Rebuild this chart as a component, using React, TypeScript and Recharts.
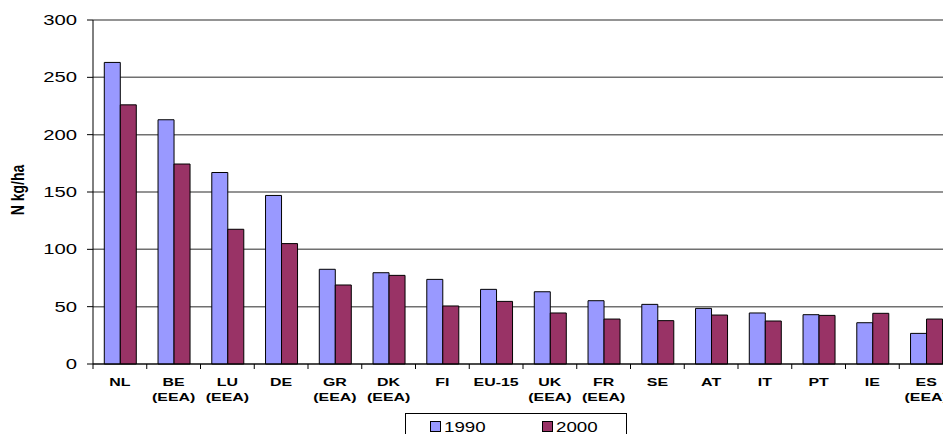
import React from 'react';
import { BarChart, Bar, XAxis, YAxis, CartesianGrid } from 'recharts';

// 国別の窒素量 (N kg/ha)
const countries = ['NL', 'BE\n(EEA)', 'LU\n(EEA)', 'DE', 'GR\n(EEA)', 'DK\n(EEA)', 'FI', 'EU-15', 'UK\n(EEA)', 'FR\n(EEA)', 'SE', 'AT', 'IT', 'PT', 'IE', 'ES\n(EEA)'];
const values1990 = [263, 213, 167, 147, 82.6, 79.6, 73.8, 65.1, 63, 55.2, 52, 48.5, 44.5, 43, 36, 26.7];
const values2000 = [226, 174.4, 117.5, 105, 68.9, 77.3, 50.6, 54.6, 44.5, 39.2, 37.8, 42.7, 37.5, 42.4, 44.2, 39.2];
const seriesNames = ['1990', '2000'];
const seriesColors = ['#9999FF', '#993366'];
const yTicks = [0, 50, 100, 150, 200, 250, 300];

const FONT = '"Liberation Sans", Arial, sans-serif';

// レイアウト
const CHART_W = 960;
const CHART_H = 434;
const LEFT = 93;
const RIGHT_MARGIN = 7;
const PLOT_BOTTOM = 364;
const BAND = (CHART_W - LEFT - RIGHT_MARGIN) / countries.length;

const data = countries.map((name, i) => ({
  name,
  v1990: values1990[i],
  v2000: values2000[i]
}));

const XTick = ({ x, payload, index }: any) => {
  const lines = String(payload.value).split('\n');
  const left = x - BAND / 2;
  return (
    <g>
      <line x1={left} x2={left} y1={PLOT_BOTTOM} y2={PLOT_BOTTOM + 5} stroke="#000" />
      {index === countries.length - 1 && (
        <line x1={left + BAND} x2={left + BAND} y1={PLOT_BOTTOM} y2={PLOT_BOTTOM + 5} stroke="#000" />
      )}
      {lines.map((t, i) => (
        <text
          key={i}
          transform={`translate(${x},${386 + i * 15}) scale(1.45,1)`}
          textAnchor="middle"
          fontFamily={FONT}
          fontWeight="bold"
          fontSize={11}
          fill="#000"
        >
          {t}
        </text>
      ))}
    </g>
  );
};

const YTick = ({ y, payload }: any) => (
  <g>
    <line x1={LEFT - 6} x2={LEFT} y1={y} y2={y} stroke="#000" />
    <text
      transform={`translate(77,${y}) scale(1.45,1)`}
      textAnchor="end"
      dy="0.36em"
      fontFamily={FONT}
      fontSize={14}
      fill="#000"
    >
      {payload.value}
    </text>
  </g>
);

const YLabel = () => (
  <text
    transform="translate(18,190) scale(1.3,1) rotate(-90)"
    textAnchor="middle"
    dy="0.35em"
    fontFamily={FONT}
    fontWeight="bold"
    fontSize={14}
    fill="#000"
  >
    N kg/ha
  </text>
);

// 凡例（下端で切れている枠）
const LegendBox = () => (
  <svg
    width={223}
    height={40}
    style={{ position: 'absolute', left: 405, top: 413 }}
  >
    <rect x={0.5} y={0.5} width={221} height={38} fill="#fff" stroke="#000" />
    {seriesNames.map((name, i) => (
      <g key={name} transform={`translate(${25 + i * 112},0)`}>
        <rect x={0.5} y={8.5} width={10} height={10} fill={seriesColors[i]} stroke="#000" />
        <text
          transform="translate(14,18.5) scale(1.25,1)"
          fontFamily={FONT}
          fontSize={15}
          fill="#000"
        >
          {name}
        </text>
      </g>
    ))}
  </svg>
);

export default function App() {
  return (
    <div
      style={{
        position: 'fixed',
        left: 0,
        top: 0,
        width: 943,
        height: 434,
        overflow: 'hidden',
        background: '#fff'
      }}
    >
      <BarChart
        width={CHART_W}
        height={CHART_H}
        data={data}
        margin={{ top: 20, right: RIGHT_MARGIN, left: 0, bottom: 0 }}
        barCategoryGap="21%"
        barGap={0}
      >
        <CartesianGrid vertical={false} stroke="#707070" strokeWidth={1.5} />
        <XAxis
          dataKey="name"
          height={CHART_H - PLOT_BOTTOM}
          axisLine={{ stroke: '#000' }}
          tickLine={false}
          interval={0}
          tick={<XTick />}
        />
        <YAxis
          width={LEFT}
          domain={[0, 300]}
          ticks={yTicks}
          axisLine={{ stroke: '#000' }}
          tickLine={false}
          tick={<YTick />}
          label={{ content: () => <YLabel /> }}
        />
        <Bar dataKey="v1990" name={seriesNames[0]} fill={seriesColors[0]} stroke="#000" strokeWidth={1} isAnimationActive={false} />
        <Bar dataKey="v2000" name={seriesNames[1]} fill={seriesColors[1]} stroke="#000" strokeWidth={1} isAnimationActive={false} />
      </BarChart>
      <LegendBox />
    </div>
  );
}
